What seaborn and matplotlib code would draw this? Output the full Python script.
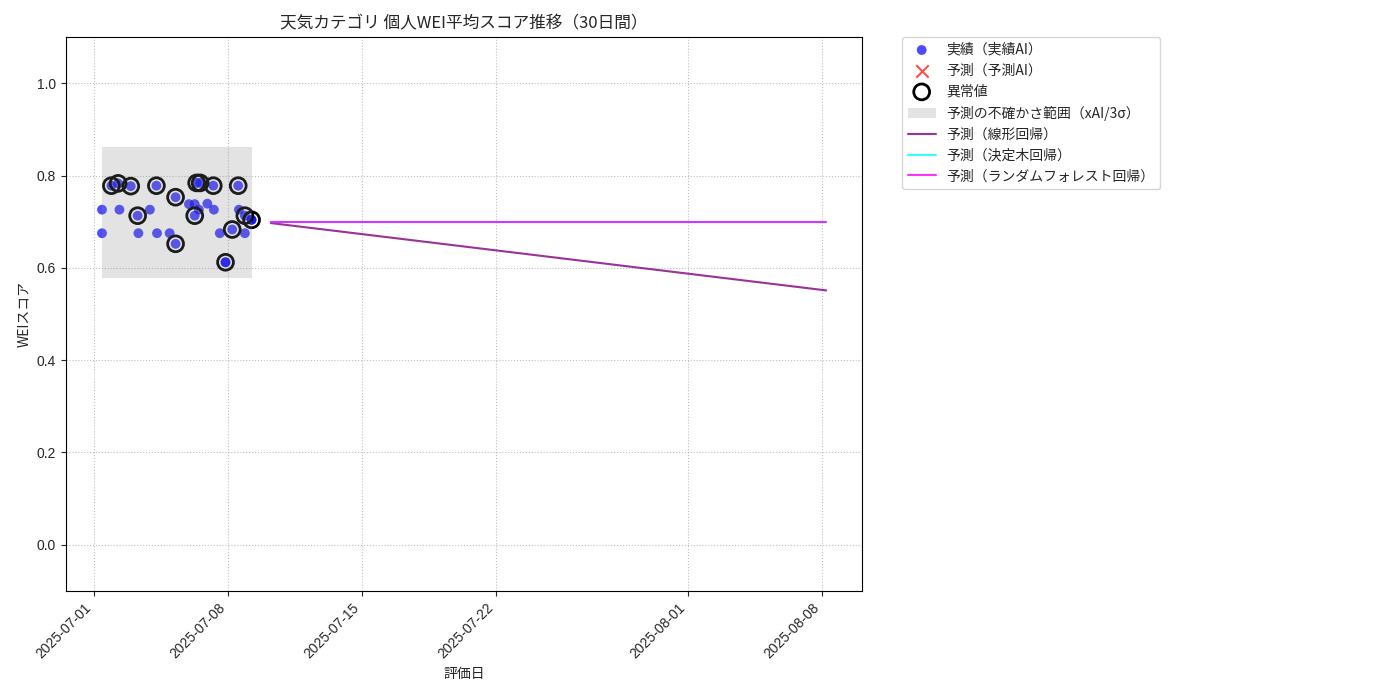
import pandas as pd
import seaborn as sns
import matplotlib.pyplot as plt
import matplotlib.dates as mdates

# actual scores (実績AI)
actual_dates = [
    "2025-07-01 10:05", "2025-07-01 10:05", "2025-07-01 21:50", "2025-07-02 06:15",
    "2025-07-02 07:55", "2025-07-02 22:05", "2025-07-03 06:45", "2025-07-03 07:40",
    "2025-07-03 22:05", "2025-07-04 06:15", "2025-07-04 07:00", "2025-07-04 22:50",
    "2025-07-05 06:15", "2025-07-05 06:15", "2025-07-05 23:00", "2025-07-06 06:15",
    "2025-07-06 06:15", "2025-07-06 08:40", "2025-07-06 11:30", "2025-07-06 13:00",
    "2025-07-06 22:05", "2025-07-07 05:30", "2025-07-07 06:15", "2025-07-07 13:40",
    "2025-07-07 20:50", "2025-07-07 20:50", "2025-07-08 05:15", "2025-07-08 12:45",
    "2025-07-08 13:40", "2025-07-08 21:05", "2025-07-08 21:05", "2025-07-09 05:30",
    "2025-07-09 05:30",
]
actual_scores = [
    0.726, 0.675, 0.778, 0.783,
    0.726, 0.777, 0.713, 0.675,
    0.726, 0.778, 0.675, 0.675,
    0.753, 0.652, 0.738, 0.738,
    0.713, 0.784, 0.726, 0.784,
    0.739, 0.778, 0.726, 0.675,
    0.612, 0.612, 0.683, 0.778,
    0.726, 0.713, 0.675, 0.704,
    0.704,
]

# anomalies (異常値)
outlier_dates = [
    "2025-07-01 21:50", "2025-07-02 06:15", "2025-07-02 22:05", "2025-07-03 06:45",
    "2025-07-04 06:15", "2025-07-05 06:15", "2025-07-05 06:15", "2025-07-06 06:15",
    "2025-07-06 08:40", "2025-07-06 13:00", "2025-07-07 05:30", "2025-07-07 20:50",
    "2025-07-08 05:15", "2025-07-08 12:45", "2025-07-08 21:05", "2025-07-09 05:30",
]
outlier_scores = [
    0.778, 0.783, 0.777, 0.713,
    0.778, 0.753, 0.652, 0.713,
    0.784, 0.784, 0.778, 0.612,
    0.683, 0.778, 0.713, 0.704,
]

# uncertainty band (xAI / 3 sigma)
band_dates = ["2025-07-01 10:05", "2025-07-09 05:30"]
band_low = [0.578, 0.578]
band_high = [0.861, 0.861]

# forecasts
forecast_dates = ["2025-07-10 05:30", "2025-08-08 05:30"]
pred_linear = [0.697, 0.551]
pred_tree = [0.699, 0.699]
pred_forest = [0.700, 0.700]

actual = pd.DataFrame({"date": pd.to_datetime(actual_dates), "score": actual_scores})
outliers = pd.DataFrame({"date": pd.to_datetime(outlier_dates), "score": outlier_scores})
fc = pd.DataFrame({
    "date": pd.to_datetime(forecast_dates),
    "linear": pred_linear,
    "tree": pred_tree,
    "forest": pred_forest,
})

sns.set_style("ticks")
plt.rcParams["font.family"] = ["Noto Sans CJK JP", "DejaVu Sans"]

fig, ax = plt.subplots(figsize=(14, 7), dpi=100)
fig.subplots_adjust(left=0.047, right=0.616, top=0.947, bottom=0.156)

sns.scatterplot(data=actual, x="date", y="score", ax=ax, color="blue", alpha=0.7,
                s=50, edgecolor="none", label="実績（実績AI）")
ax.scatter([], [], marker="x", color="red", alpha=0.7, s=80, label="予測（予測AI）")
sns.scatterplot(data=outliers, x="date", y="score", ax=ax, facecolor="none",
                edgecolor="black", linewidth=2, s=130, label="異常値")
ax.fill_between(pd.to_datetime(band_dates), band_low, band_high, color="gray",
                alpha=0.22, linewidth=0, label="予測の不確かさ範囲（xAI/3σ）")
sns.lineplot(data=fc, x="date", y="linear", ax=ax, color="purple", alpha=0.8,
             linewidth=1.5, label="予測（線形回帰）")
sns.lineplot(data=fc, x="date", y="tree", ax=ax, color="cyan", alpha=0.8,
             linewidth=1.5, label="予測（決定木回帰）")
sns.lineplot(data=fc, x="date", y="forest", ax=ax, color="magenta", alpha=0.8,
             linewidth=1.5, label="予測（ランダムフォレスト回帰）")

ax.set_ylim(-0.1, 1.1)
ax.set_title("天気カテゴリ 個人WEI平均スコア推移（30日間）", fontsize=12)
ax.set_xlabel("評価日")
ax.set_ylabel("WEIスコア")
ax.grid(True, linestyle=":", color="gray", alpha=0.5)
ax.xaxis.set_major_formatter(mdates.DateFormatter("%Y-%m-%d"))
ax.tick_params(labelfontfamily="Liberation Sans")
plt.setp(ax.get_xticklabels(), rotation=45, ha="right")
for side in ax.spines.values():
    side.set_visible(True)
    side.set_color("black")

ax.legend(loc="upper left", bbox_to_anchor=(1.05, 1), borderaxespad=0)

fig.savefig("out.png")
